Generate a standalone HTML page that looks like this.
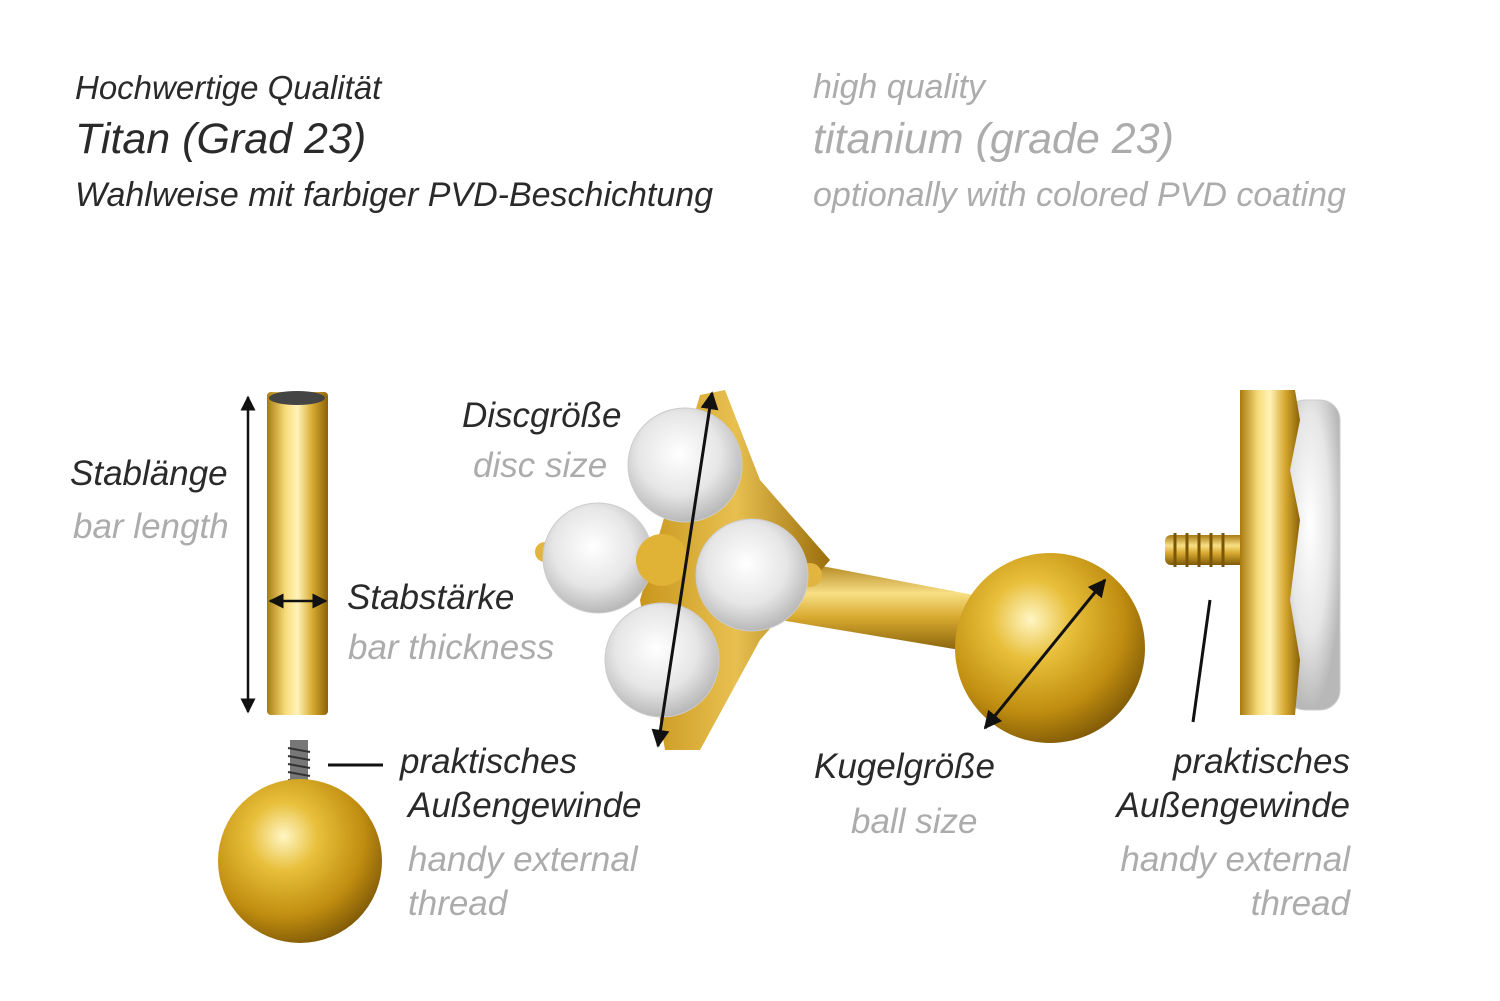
<!DOCTYPE html>
<html><head><meta charset="utf-8"><style>
html,body{margin:0;padding:0;background:#fff;}
body{width:1500px;height:1001px;position:relative;overflow:hidden;font-family:"Liberation Sans",sans-serif;font-style:italic;}
.t{position:absolute;white-space:nowrap;line-height:1;}
.d{color:#2a2a2a}.g{color:#acacac}
</style></head><body>
<svg width="1500" height="1001" style="position:absolute;left:0;top:0">
<defs>
<linearGradient id="bar" x1="0" x2="1"><stop offset="0" stop-color="#a97a10"/><stop offset=".3" stop-color="#f7dc7a"/><stop offset=".5" stop-color="#fff3b8"/><stop offset=".75" stop-color="#d6a82e"/><stop offset="1" stop-color="#8a6208"/></linearGradient>
<linearGradient id="disc" x1="0" x2="1"><stop offset="0" stop-color="#c8961c"/><stop offset=".5" stop-color="#e8c050"/><stop offset="1" stop-color="#9a6e0c"/></linearGradient>
<radialGradient id="ball" cx=".4" cy=".35" r=".7"><stop offset="0" stop-color="#fff6c4"/><stop offset=".3" stop-color="#e8bf3a"/><stop offset=".7" stop-color="#c08d10"/><stop offset="1" stop-color="#7a5506"/></radialGradient>
<linearGradient id="sbar" x1="0" y1="0" x2="0" y2="1"><stop offset="0" stop-color="#a87a12"/><stop offset=".35" stop-color="#f8df85"/><stop offset=".6" stop-color="#d9aa30"/><stop offset="1" stop-color="#7e5a08"/></linearGradient>
<radialGradient id="gem" cx=".45" cy=".4" r=".6"><stop offset="0" stop-color="#ffffff"/><stop offset=".6" stop-color="#e6e6e6"/><stop offset="1" stop-color="#b8b8b8"/></radialGradient>
<marker id="ar" viewBox="0 0 10 10" refX="9" refY="5" markerWidth="6" markerHeight="6" orient="auto-start-reverse"><path d="M0,0L10,5L0,10z" fill="#111"/></marker>
</defs>
<rect x="267" y="392" width="61" height="323" rx="4" fill="url(#bar)"/>
<ellipse cx="297" cy="398" rx="28" ry="7" fill="#444"/>
<line x1="248" y1="397" x2="248" y2="712" stroke="#111" stroke-width="2.5" marker-start="url(#ar)" marker-end="url(#ar)"/>
<line x1="270" y1="601" x2="326" y2="601" stroke="#111" stroke-width="2.5" marker-start="url(#ar)" marker-end="url(#ar)"/>
<rect x="290" y="740" width="18" height="60" fill="#777"/>
<g stroke="#333" stroke-width="2"><line x1="288" y1="748" x2="310" y2="752"/><line x1="288" y1="756" x2="310" y2="760"/><line x1="288" y1="764" x2="310" y2="768"/><line x1="288" y1="772" x2="310" y2="776"/><line x1="288" y1="780" x2="310" y2="784"/></g>
<circle cx="300" cy="861" r="82" fill="url(#ball)"/>
<line x1="328" y1="765" x2="383" y2="765" stroke="#111" stroke-width="3"/>
<polygon points="790,560 1000,600 990,655 780,620" fill="url(#sbar)"/>
<rect x="1000" y="600" width="30" height="50" fill="#c99a20" transform="rotate(10 1015 625)"/>
<circle cx="1050" cy="648" r="95" fill="url(#ball)"/>
<polygon points="700,395 725,390 760,480 830,560 760,640 700,750 665,750 640,600" fill="url(#disc)"/>
<circle cx="810" cy="575" r="12" fill="#e2b440"/>
<circle cx="545" cy="552" r="10" fill="#e2b440"/>
<circle cx="685" cy="465" r="57" fill="url(#gem)" stroke="#ccc"/>
<circle cx="598" cy="558" r="55" fill="url(#gem)" stroke="#ccc"/>
<circle cx="752" cy="575" r="56" fill="url(#gem)" stroke="#ccc"/>
<circle cx="662" cy="660" r="57" fill="url(#gem)" stroke="#ccc"/>
<circle cx="662" cy="560" r="26" fill="#e0b236"/>
<line x1="712" y1="393" x2="658" y2="746" stroke="#111" stroke-width="3" marker-start="url(#ar)" marker-end="url(#ar)"/>
<line x1="1105" y1="580" x2="985" y2="728" stroke="#111" stroke-width="3" marker-start="url(#ar)" marker-end="url(#ar)"/>
<rect x="1165" y="535" width="80" height="30" rx="6" fill="url(#sbar)"/>
<g stroke="#7a5506" stroke-width="3"><line x1="1175" y1="533" x2="1175" y2="567"/><line x1="1187" y1="533" x2="1187" y2="567"/><line x1="1199" y1="533" x2="1199" y2="567"/><line x1="1211" y1="533" x2="1211" y2="567"/><line x1="1223" y1="533" x2="1223" y2="567"/></g>
<rect x="1285" y="400" width="55" height="310" rx="20" fill="url(#gem)" stroke="#ccc"/>
<path d="M1240,390 L1295,390 L1300,420 L1290,470 L1300,520 L1290,600 L1300,660 L1295,715 L1240,715 Z" fill="url(#bar)"/>
<line x1="1210" y1="600" x2="1193" y2="722" stroke="#111" stroke-width="3"/>
</svg>
<div class="t d" style="left:75px;top:71px;font-size:33px">Hochwertige Qualität</div>
<div class="t d" style="left:75px;top:118px;font-size:43px">Titan (Grad 23)</div>
<div class="t d" style="left:75px;top:178px;font-size:34px">Wahlweise mit farbiger PVD-Beschichtung</div>
<div class="t g" style="left:813px;top:70px;font-size:34px">high quality</div>
<div class="t g" style="left:813px;top:118px;font-size:43px">titanium (grade 23)</div>
<div class="t g" style="left:813px;top:178px;font-size:34px">optionally with colored PVD coating</div>
<div class="t d" style="left:70px;top:456px;font-size:35px">Stablänge</div>
<div class="t g" style="left:73px;top:509px;font-size:35px">bar length</div>
<div class="t d" style="left:347px;top:580px;font-size:35px">Stabstärke</div>
<div class="t g" style="left:348px;top:630px;font-size:35px">bar thickness</div>
<div class="t d" style="left:462px;top:398px;font-size:35px">Discgröße</div>
<div class="t g" style="left:473px;top:448px;font-size:35px">disc size</div>
<div class="t d" style="left:400px;top:744px;font-size:35px">praktisches</div>
<div class="t d" style="left:408px;top:788px;font-size:35px">Außengewinde</div>
<div class="t g" style="left:408px;top:842px;font-size:35px">handy external</div>
<div class="t g" style="left:408px;top:886px;font-size:35px">thread</div>
<div class="t d" style="left:814px;top:749px;font-size:35px">Kugelgröße</div>
<div class="t g" style="left:851px;top:804px;font-size:35px">ball size</div>
<div class="t d" style="right:150px;top:744px;font-size:35px">praktisches</div>
<div class="t d" style="right:150px;top:788px;font-size:35px">Außengewinde</div>
<div class="t g" style="right:150px;top:842px;font-size:35px">handy external</div>
<div class="t g" style="right:150px;top:886px;font-size:35px">thread</div>
</body></html>
